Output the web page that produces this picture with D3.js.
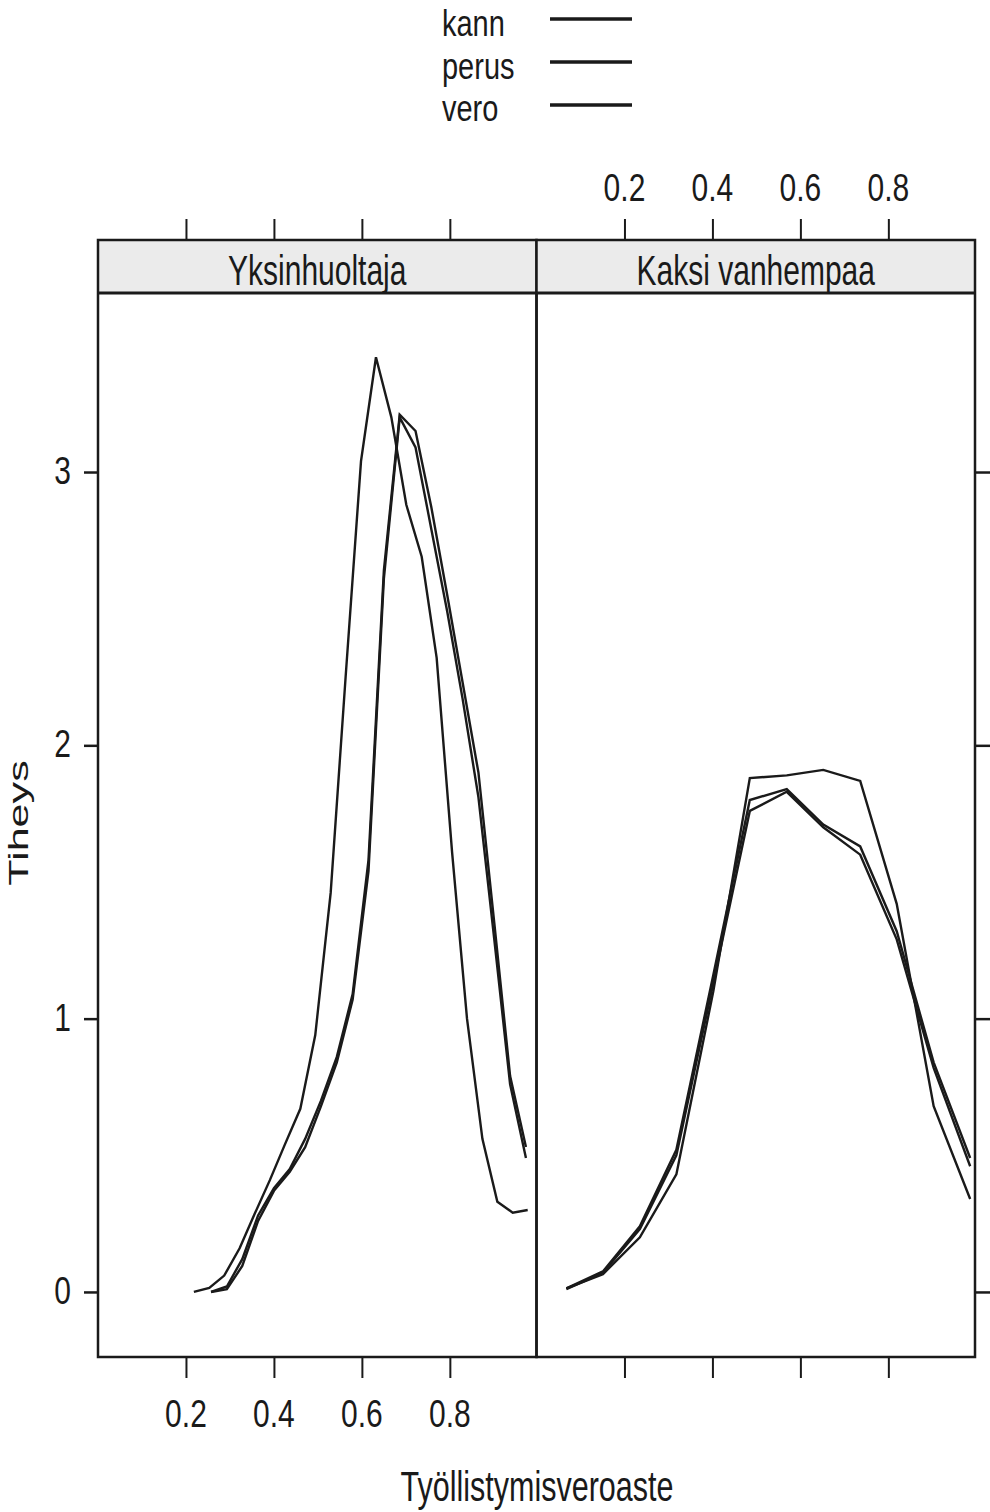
<!DOCTYPE html>
<html>
<head>
<meta charset="utf-8">
<script src="https://cdn.jsdelivr.net/npm/d3@7"></script>
<style>
  body { margin: 0; background: #fff; }
  text { font-family: "Liberation Sans", Arial, Helvetica, sans-serif; fill: #1a1a1a; }
</style>
</head>
<body>
<div id="chart"></div>
<script>
const PANELS = ["Yksinhuoltaja", "Kaksi vanhempaa"];
const SERIES = ["kann", "perus", "vero"];
const X_TICKS = [0.2, 0.4, 0.6, 0.8];
const Y_TICKS = [0, 1, 2, 3];
const X_TITLE = "Työllistymisveroaste";
const Y_TITLE = "Tiheys";

// Yksinhuoltaja: evaluation points and densities
const YKSIN_X_KANN = [0.218, 0.253, 0.287, 0.322, 0.356, 0.391, 0.425, 0.460, 0.494, 0.529, 0.563, 0.598,
                      0.632, 0.667, 0.701, 0.736, 0.770, 0.805, 0.839, 0.874, 0.908, 0.943, 0.977];
const YKSIN_KANN = [0.00, 0.015, 0.06, 0.16, 0.285, 0.41, 0.54, 0.67, 0.94, 1.46, 2.25, 3.04,
                    3.42, 3.20, 2.88, 2.69, 2.32, 1.61, 1.00, 0.56, 0.33, 0.29, 0.30];
const YKSIN_X_MUUT = [0.257, 0.293, 0.328, 0.364, 0.400, 0.436, 0.471, 0.507, 0.543, 0.579, 0.615,
                      0.650, 0.686, 0.722, 0.758, 0.794, 0.829, 0.865, 0.901, 0.937, 0.973];
const YKSIN_PERUS = [0.00, 0.02, 0.12, 0.28, 0.38, 0.45, 0.56, 0.70, 0.86, 1.09, 1.58,
                     2.64, 3.21, 3.15, 2.87, 2.55, 2.23, 1.90, 1.35, 0.79, 0.53];
const YKSIN_VERO = [0.00, 0.01, 0.095, 0.26, 0.37, 0.44, 0.53, 0.68, 0.84, 1.07, 1.54,
                    2.61, 3.20, 3.09, 2.79, 2.49, 2.17, 1.81, 1.29, 0.76, 0.49];

// Kaksi vanhempaa
const KAKSI_X = [0.068, 0.151, 0.235, 0.318, 0.402, 0.485, 0.569, 0.652, 0.736, 0.819, 0.903, 0.986];
const KAKSI_KANN = [0.013, 0.065, 0.20, 0.43, 1.10, 1.88, 1.89, 1.91, 1.87, 1.42, 0.68, 0.34];
const KAKSI_PERUS = [0.013, 0.075, 0.24, 0.52, 1.16, 1.80, 1.84, 1.71, 1.63, 1.32, 0.84, 0.49];
const KAKSI_VERO = [0.010, 0.070, 0.23, 0.50, 1.13, 1.76, 1.83, 1.70, 1.60, 1.29, 0.82, 0.46];

const WIDTH = 990, HEIGHT = 1512;
const PANEL_W = 438.5;
const PANEL_X = [98, 536.5];
const TOP = 240, STRIP_H = 53, BOTTOM = 1357;
const INK = "#1a1a1a";

const panelData = [
  [ {x: YKSIN_X_KANN, y: YKSIN_KANN}, {x: YKSIN_X_MUUT, y: YKSIN_PERUS}, {x: YKSIN_X_MUUT, y: YKSIN_VERO} ],
  [ {x: KAKSI_X, y: KAKSI_KANN}, {x: KAKSI_X, y: KAKSI_PERUS}, {x: KAKSI_X, y: KAKSI_VERO} ]
];

// text is drawn taller than wide, as in the original
function label(g, txt, x, y, size, k, anchor, rotated) {
  return g.append("text")
    .attr("transform", "translate(" + x + "," + y + ") scale(1," + k + ")" + (rotated ? " rotate(-90)" : ""))
    .attr("text-anchor", anchor)
    .style("font-size", size + "px")
    .text(txt);
}

const svg = d3.select("#chart").append("svg")
  .attr("width", WIDTH)
  .attr("height", HEIGHT);
svg.append("rect").attr("width", WIDTH).attr("height", HEIGHT).attr("fill", "#fff");

const y = d3.scaleLinear().domain([-0.238, 3.655]).range([BOTTOM, TOP + STRIP_H]);

PANELS.forEach((name, p) => {
  const x0 = PANEL_X[p];
  const x = d3.scaleLinear().domain([0, 0.997]).range([x0, x0 + PANEL_W]);
  const g = svg.append("g");

  // strip
  g.append("rect")
    .attr("x", x0).attr("y", TOP)
    .attr("width", PANEL_W).attr("height", STRIP_H)
    .attr("fill", "#ebebeb");
  label(g, name, x0 + PANEL_W / 2, TOP + 45, 30, 1.4, "middle");

  // density curves
  const line = d3.line().x(d => x(d[0])).y(d => y(d[1]));
  panelData[p].forEach(s => {
    g.append("path")
      .datum(s.x.map((v, i) => [v, s.y[i]]))
      .attr("d", line)
      .attr("fill", "none")
      .attr("stroke", INK)
      .attr("stroke-width", 2.4)
      .attr("stroke-linejoin", "miter");
  });

  // x axes: bottom labelled in left panel, top labelled in right panel
  const bottomAxis = g.append("g")
    .attr("transform", "translate(0," + BOTTOM + ")")
    .call(d3.axisBottom(x).tickValues(X_TICKS).tickSize(21).tickFormat(""));
  const topAxis = g.append("g")
    .attr("transform", "translate(0," + TOP + ")")
    .call(d3.axisTop(x).tickValues(X_TICKS).tickSize(21).tickFormat(""));
  [bottomAxis, topAxis].forEach(a => {
    a.select(".domain").remove();
    a.selectAll("line").attr("stroke", INK).attr("stroke-width", 2);
  });
  X_TICKS.forEach(t => {
    if (p === 0) label(g, d3.format(".1f")(t), x(t), 1427, 30, 1.3, "middle");
    else label(g, d3.format(".1f")(t), x(t), 201, 30, 1.3, "middle");
  });

  // y axis: left in left panel, right ticks in right panel
  if (p === 0) {
    const ya = g.append("g").attr("transform", "translate(" + x0 + ",0)")
      .call(d3.axisLeft(y).tickValues(Y_TICKS).tickSize(14).tickFormat(""));
    ya.select(".domain").remove();
    ya.selectAll("line").attr("stroke", INK).attr("stroke-width", 2.5);
    Y_TICKS.forEach(t => label(g, t, 71, y(t) + 12, 30, 1.3, "end"));
  } else {
    const ya = g.append("g").attr("transform", "translate(" + (x0 + PANEL_W) + ",0)")
      .call(d3.axisRight(y).tickValues(Y_TICKS).tickSize(16).tickFormat(""));
    ya.select(".domain").remove();
    ya.selectAll("line").attr("stroke", INK).attr("stroke-width", 2.5);
  }

  // borders
  g.append("rect")
    .attr("x", x0).attr("y", TOP)
    .attr("width", PANEL_W).attr("height", BOTTOM - TOP)
    .attr("fill", "none").attr("stroke", INK).attr("stroke-width", 2.5);
  g.append("line")
    .attr("x1", x0).attr("x2", x0 + PANEL_W)
    .attr("y1", TOP + STRIP_H).attr("y2", TOP + STRIP_H)
    .attr("stroke", INK).attr("stroke-width", 3);
});

// legend
const key = svg.append("g");
SERIES.forEach((s, i) => {
  label(key, s, 442, 36 + i * 42.5, 29, 1.3, "start");
  key.append("line")
    .attr("x1", 550).attr("x2", 632)
    .attr("y1", 19 + i * 43).attr("y2", 19 + i * 43)
    .attr("stroke", INK).attr("stroke-width", 3.5);
});

// axis titles
label(svg, X_TITLE, 537, 1501, 30.5, 1.37, "middle");
label(svg, Y_TITLE, 28, 823, 28, 1.54, "middle", true);
</script>
</body>
</html>
